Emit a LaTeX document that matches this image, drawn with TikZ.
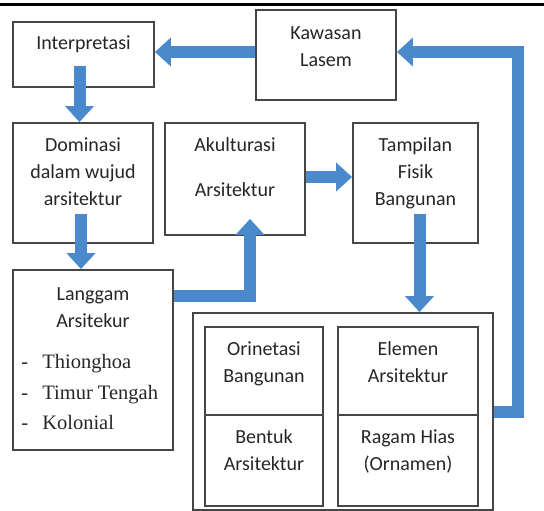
\documentclass[tikz,border=0pt]{standalone}
\usepackage{fontspec}
\setmainfont{Carlito}
\newfontfamily\listfont{Liberation Serif}
\usepackage{tikz}
\usetikzlibrary{arrows.meta,positioning,calc}
\definecolor{flowblue}{RGB}{74,138,204}
\definecolor{boxgray}{RGB}{70,70,70}
\tikzstyle{box} = [rectangle, draw=boxgray, line width=1.8pt, inner sep=0pt, align=center, text=black!85, font=\fontsize{20}{27}\selectfont]
\tikzstyle{listtext} = [inner sep=0pt, align=left, text=black!85, font=\listfont\fontsize{20.5}{30.5}\selectfont]
\tikzstyle{arrow} = [line width=12pt, color=flowblue, line join=miter, -{Triangle[length=16pt,width=28pt]}]

\begin{document}
\begin{tikzpicture}[x=1pt,y=-1pt]
\useasboundingbox (0,0) rectangle (544,511);
% rule at top of page
\draw[line width=3pt] (0,5) -- (544,5);

% Upper row
\node (interp) [box, minimum width=141pt, minimum height=65pt, text depth=23pt] at (83.5,54.5) {Interpretasi};
\node (kawasan) [box, minimum width=140pt, minimum height=90pt, text depth=17pt] at (326,55) {Kawasan\\Lasem};

% Middle row
\node (domin) [box, minimum width=140pt, minimum height=120pt, text depth=23pt] at (83,183) {Dominasi\\dalam wujud\\arsitektur};
\node (akult) [box, minimum width=140pt, minimum height=112pt, text depth=23pt] at (235,179) {Akulturasi\\[18pt]Arsitektur};
\node (tamp) [box, minimum width=125pt, minimum height=120pt, text depth=23pt] at (415.5,183) {Tampilan\\Fisik\\Bangunan};

% Langgam box with list
\node (lang) [box, minimum width=160pt, minimum height=180pt, text depth=105pt] at (93,360) {Langgam\\Arsitekur};
\node (langlist) [listtext, below right=85pt and 9pt of lang.north west] {\makebox[21pt][l]{-}Thionghoa\\\makebox[21pt][l]{-}Timur Tengah\\\makebox[21pt][l]{-}Kolonial};

% Aspects of the building
\node (aspek) [box, minimum width=300pt, minimum height=197pt] at (343,411.5) {};
\node (orin) [box, minimum width=118pt, minimum height=88pt, text depth=18pt] at (264,371) {Orinetasi\\Bangunan};
\node (elem) [box, minimum width=140pt, minimum height=88pt, text depth=18pt] at (408,371) {Elemen\\Arsitektur};
\node (bentuk) [box, minimum width=118pt, minimum height=91pt, text depth=20pt] at (264,460.5) {Bentuk\\Arsitektur};
\node (ragam) [box, minimum width=140pt, minimum height=91pt, text depth=20pt] at (408,460.5) {Ragam Hias\\(Ornamen)};

% Arrows
\draw[arrow] ([yshift=3pt]kawasan.west) -- ([yshift=3pt]kawasan.west -| interp.east);
\draw[arrow] ([xshift=-4pt,yshift=22pt]interp.south) -- ([xshift=-4pt]interp.south |- domin.north);
\draw[arrow] ([xshift=-2pt,yshift=30pt]domin.south) -- ([xshift=-2pt]domin.south |- lang.north);
\draw[arrow] ([yshift=-27pt]lang.north east) -| ([xshift=15pt,yshift=17pt]akult.south);
\draw[arrow] ([yshift=2pt]akult.east) -- ([yshift=2pt]akult.east -| tamp.west);
\draw[arrow] ([xshift=4pt,yshift=30pt]tamp.south) -- ([xshift=4pt]tamp.south |- aspek.north);
\draw[arrow] (aspek.east) -- ++(24,0) |- ([yshift=3pt]kawasan.east);
\end{tikzpicture}
\end{document}
